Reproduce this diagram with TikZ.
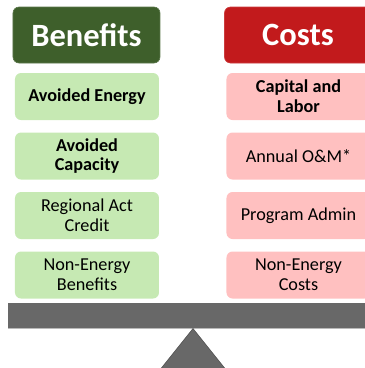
\documentclass[tikz,border=0pt]{standalone}
\usepackage{fontspec}
\setmainfont{Carlito}
\definecolor{hdgreen}{HTML}{3E5F2B}
\definecolor{hdred}{HTML}{C21A1C}
\definecolor{ltgreen}{HTML}{C6E9B3}
\definecolor{ltpink}{HTML}{FFC0C0}
\definecolor{beamgray}{HTML}{686868}
\tikzset{
  header/.style={rounded corners=6pt, minimum width=147pt, minimum height=56pt, text=white,
    font=\fontsize{32.5}{36}\selectfont\bfseries, inner sep=0pt, draw=#1!85!white, line width=0.6pt, fill=#1},
  item/.style={rounded corners=6pt, minimum width=144pt, minimum height=47pt, inner sep=0pt,
    align=center, font=\fontsize{18.2}{19.8}\selectfont, fill=#1},
  bolditem/.style={item=#1, font=\fontsize{18.2}{19.8}\selectfont\bfseries}
}
\begin{document}
\begin{tikzpicture}[x=1pt, y=-1pt]
\useasboundingbox (0,0) rectangle (365,368);
\clip (0,0) rectangle (365,368);
% headers
\node[header=hdgreen] (ben) at (86.5,35) {Benefits};
\node[header=hdred] (cost) at (298,35) {Costs};
% benefit items
\node[bolditem=ltgreen] (b1) at (87,96.5) {Avoided Energy};
\node[bolditem=ltgreen] (b2) at (87,156) {Avoided\\Capacity};
\node[item=ltgreen] (b3) at (87,215.5) {Regional Act\\Credit};
\node[item=ltgreen] (b4) at (87,275) {Non-Energy\\Benefits};
% cost items
\node[bolditem=ltpink] (c1) at (298.5,96.5) {Capital and\\Labor};
\node[item=ltpink] (c2) at (298.5,156) {Annual O\&M*};
\node[item=ltpink] (c3) at (298.5,215.5) {Program Admin};
\node[item=ltpink] (c4) at (298.5,275) {Non-Energy\\Costs};
% beam
\fill[beamgray] (8,303) rectangle (375,328);
\draw[gray!55, line width=0.8pt] (8,328) -- (375,328);
% fulcrum
\coordinate (apex) at (193,328.5);
\filldraw[fill=beamgray, draw=black!70, line width=0.5pt] (apex) -- (239,386) -- (147,386) -- cycle;
\end{tikzpicture}
\end{document}
